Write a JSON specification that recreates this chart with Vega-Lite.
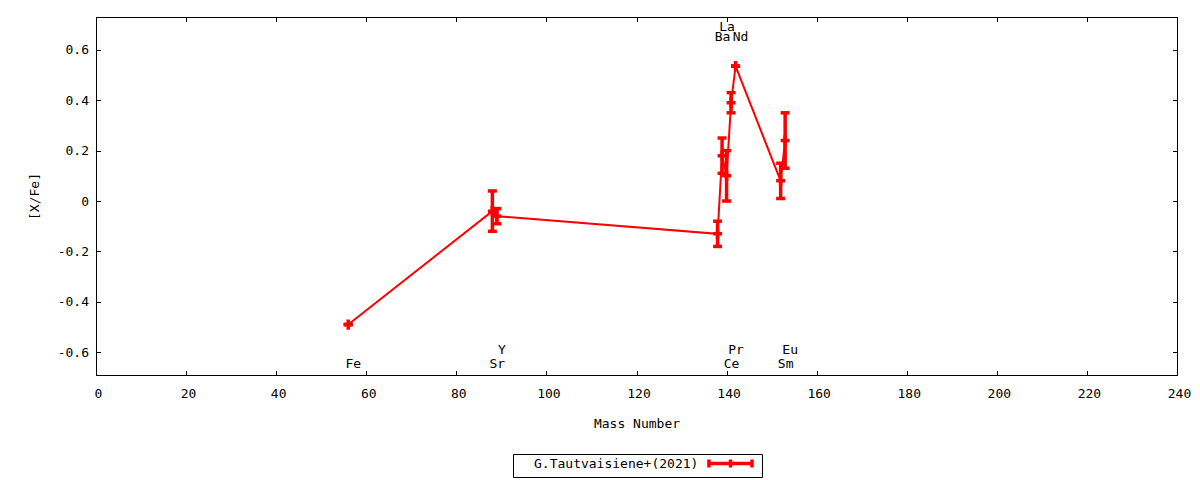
{
  "$schema": "https://vega.github.io/schema/vega-lite/v6.json",
  "width": 1081,
  "height": 358,
  "autosize": "none",
  "padding": {"left": 96, "top": 17, "right": 23, "bottom": 105},
  "background": "white",
  "config": {
    "view": {"stroke": "black", "strokeWidth": 1},
    "font": "DejaVu Sans Mono",
    "axis": {
      "grid": false,
      "domainColor": "black",
      "tickColor": "black",
      "tickSize": -4.5,
      "labelFont": "DejaVu Sans Mono",
      "labelFontSize": 13,
      "labelColor": "black",
      "titleFont": "DejaVu Sans Mono",
      "titleFontSize": 13,
      "titleFontWeight": "normal",
      "titleColor": "black"
    }
  },
  "resolve": {"axis": {"x": "independent", "y": "independent"}},
  "data": {
    "values": [
      {"element": "Fe", "mass": 56, "value": -0.49, "lo": -0.49, "hi": -0.49, "labelY": -0.645, "source": "G.Tautvaisiene+(2021)"},
      {"element": "Sr", "mass": 88, "value": -0.04, "lo": -0.12, "hi": 0.04, "labelY": -0.645, "source": "G.Tautvaisiene+(2021)"},
      {"element": "Y", "mass": 89, "value": -0.06, "lo": -0.09, "hi": -0.03, "labelY": -0.59, "source": "G.Tautvaisiene+(2021)"},
      {"element": "Ba", "mass": 138, "value": -0.13, "lo": -0.18, "hi": -0.08, "labelY": 0.652, "source": "G.Tautvaisiene+(2021)"},
      {"element": "La", "mass": 139, "value": 0.18, "lo": 0.11, "hi": 0.25, "labelY": 0.69, "source": "G.Tautvaisiene+(2021)"},
      {"element": "Ce", "mass": 140, "value": 0.1, "lo": 0.0, "hi": 0.2, "labelY": -0.645, "source": "G.Tautvaisiene+(2021)"},
      {"element": "Pr", "mass": 141, "value": 0.39, "lo": 0.35, "hi": 0.43, "labelY": -0.59, "source": "G.Tautvaisiene+(2021)"},
      {"element": "Nd", "mass": 142, "value": 0.535, "lo": 0.535, "hi": 0.535, "labelY": 0.652, "source": "G.Tautvaisiene+(2021)"},
      {"element": "Sm", "mass": 152, "value": 0.08, "lo": 0.01, "hi": 0.15, "labelY": -0.645, "source": "G.Tautvaisiene+(2021)"},
      {"element": "Eu", "mass": 153, "value": 0.24, "lo": 0.13, "hi": 0.35, "labelY": -0.59, "source": "G.Tautvaisiene+(2021)"}
    ]
  },
  "layer": [
    {
      "mark": {"type": "line", "strokeWidth": 2, "color": "#ff0000"},
      "encoding": {
        "x": {
          "field": "mass", "type": "quantitative",
          "scale": {"domain": [0, 240], "nice": false, "zero": false},
          "axis": {"orient": "bottom", "title": "Mass Number", "values": [0,20,40,60,80,100,120,140,160,180,200,220,240], "labelPadding": 17, "labelOffset": 2, "titlePadding": 17, "labelFlush": false}
        },
        "y": {
          "field": "value", "type": "quantitative",
          "scale": {"domain": [-0.69, 0.73], "nice": false, "zero": false},
          "axis": {"orient": "left", "title": "[X/Fe]", "values": [-0.6,-0.4,-0.2,0,0.2,0.4,0.6], "labelPadding": 12, "titlePadding": 16, "labelExpr": "replace(format(datum.value, '.1~f'), '\u2212', '-')"}
        },
        "order": {"field": "mass", "type": "quantitative"},
        "color": {
          "field": "source", "type": "nominal",
          "scale": {"range": ["#ff0000"]},
          "legend": {
            "orient": "none", "legendX": 417, "legendY": 437, "title": null,
            "symbolType": "M-4,0H4M-4,-0.75V0.75M4,-0.75V0.75M0,-0.75V0.75",
            "symbolSize": 116, "symbolStrokeWidth": 3.5, "symbolFillColor": "transparent",
            "symbolOffset": 208,
            "labelAlign": "left", "labelBaseline": "middle", "labelOffset": -204, "labelLimit": 400,
            "labelFont": "DejaVu Sans Mono", "labelFontSize": 13, "labelColor": "black",
            "strokeColor": "black", "padding": 2
          }
        }
      }
    },
    {
      "mark": {"type": "rule", "strokeWidth": 3.5, "color": "#ff0000"},
      "encoding": {
        "x": {"field": "mass", "type": "quantitative", "axis": null},
        "y": {"field": "lo", "type": "quantitative", "axis": null},
        "y2": {"field": "hi"}
      }
    },
    {
      "mark": {"type": "tick", "orient": "horizontal", "size": 9, "thickness": 3.5, "color": "#ff0000", "opacity": 1},
      "encoding": {
        "x": {"field": "mass", "type": "quantitative", "axis": null},
        "y": {"field": "lo", "type": "quantitative", "axis": null}
      }
    },
    {
      "mark": {"type": "tick", "orient": "horizontal", "size": 9, "thickness": 3.5, "color": "#ff0000", "opacity": 1},
      "encoding": {
        "x": {"field": "mass", "type": "quantitative", "axis": null},
        "y": {"field": "hi", "type": "quantitative", "axis": null}
      }
    },
    {
      "mark": {"type": "point", "shape": "M-1,0H1M0,-1.15V1.15", "size": 81, "filled": false, "strokeWidth": 3.5, "color": "#ff0000", "opacity": 1},
      "encoding": {
        "y": {"field": "value", "type": "quantitative", "axis": {"orient": "right", "labels": false, "title": null, "values": [-0.6,-0.4,-0.2,0,0.2,0.4,0.6]}},
        "x": {"field": "mass", "type": "quantitative", "axis": {"orient": "top", "labels": false, "title": null, "values": [0,20,40,60,80,100,120,140,160,180,200,220,240]}}
      }
    },
    {
      "mark": {"type": "text", "align": "center", "baseline": "middle", "dx": 5, "font": "DejaVu Sans Mono", "fontSize": 13, "color": "black"},
      "encoding": {
        "x": {"field": "mass", "type": "quantitative", "axis": null},
        "y": {"field": "labelY", "type": "quantitative", "axis": null},
        "text": {"field": "element"}
      }
    }
  ]
}
